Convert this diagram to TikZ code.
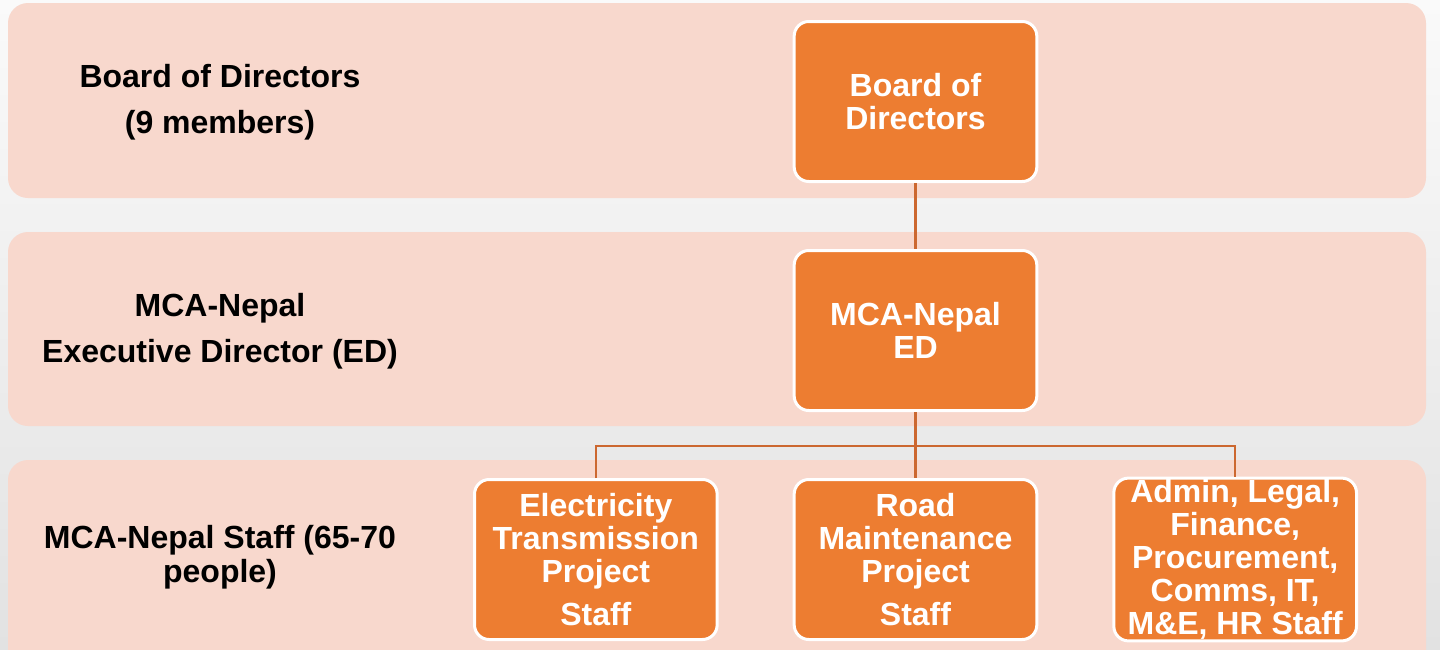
\documentclass[tikz,border=0pt]{standalone}
\usepackage{fontspec}
\setmainfont{Liberation Sans}
\usetikzlibrary{positioning}
\definecolor{bandpink}{RGB}{248,216,205}
\definecolor{boxorange}{RGB}{237,125,49}
\definecolor{linkorange}{RGB}{204,104,48}

\tikzset{
  orgbox/.style={draw=white, line width=2.25pt, fill=boxorange, rounded corners=11pt,
    minimum width=182pt, minimum height=120pt, inner sep=1pt, align=center,
    text=white, font=\fontsize{24}{24.75}\selectfont\bfseries},
  levellabel/.style={align=center, inner sep=0.75pt, font=\fontsize{24}{34.5}\selectfont\bfseries},
  band/.style={fill=bandpink, rounded corners=15pt},
  link/.style={draw=linkorange, line width=1.6pt}
}

\begin{document}
\begin{tikzpicture}[x=0.75pt,y=0.75pt,yscale=-1,xscale=1]
\useasboundingbox (0,0) rectangle (1440,650);
\clip (0,0) rectangle (1440,650);
%Background shading
\shade [top color={rgb,255:red,250;green,250;blue,250}, bottom color={rgb,255:red,226;green,226;blue,226}] (0,0) rectangle (1440,650);
%Shape: Rounded Rect [bands]
\path [band] (8,3) rectangle (1426,198);
\path [band] (8,232) rectangle (1426,426);
\path [band] (8,460) rectangle (1426,690);

% Org boxes
\node [orgbox] (board) at (915.5,101.5) {Board of\\Directors};
\node [orgbox, below=49.5pt of board] (ed) {MCA-Nepal\\ED};
\node [orgbox, below=49.5pt of ed] (road) {Road\\Maintenance\\Project\\[8pt]Staff};
\node [orgbox, left=55.5pt of road] (etp) {Electricity\\Transmission\\Project\\[8pt]Staff};
\node [orgbox, right=55.5pt of road] (adm) {Admin, Legal,\\Finance,\\Procurement,\\Comms, IT,\\M\&E, HR Staff};

%Straight Lines [links]
\coordinate (split) at (ed.south |- 0,446);
\draw [link] (board.south) -- (ed.north);
\draw [link] (ed.south) -- (split);
\draw [link] (etp.north) |- (split) -| (adm.north);
\draw [link] (split) -- (road.north);

% Text Node
\node [levellabel] (lbltop) at (220,102) {Board of Directors\\(9 members)};
% Text Node
\node [levellabel] (lblmid) at (220,331) {MCA-Nepal\\Executive Director (ED)};
% Text Node
\node [levellabel, font=\fontsize{24}{25.5}\selectfont\bfseries] (lblbot) at (220,557) {MCA-Nepal Staff (65-70\\people)};
\end{tikzpicture}
\end{document}
